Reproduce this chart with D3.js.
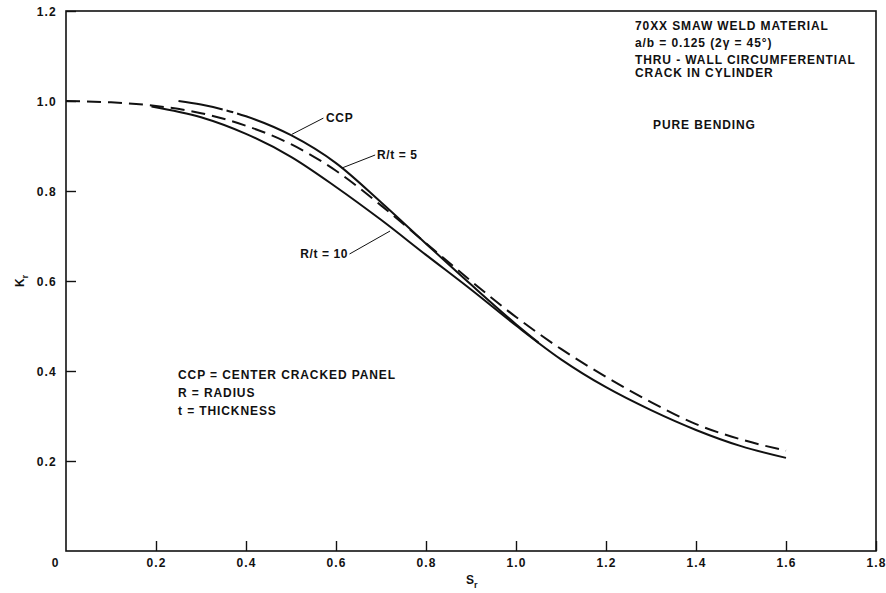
<!DOCTYPE html>
<html>
<head>
<meta charset="utf-8">
<script src="https://cdn.jsdelivr.net/npm/d3@7/dist/d3.min.js"></script>
<style>
  html, body { margin: 0; padding: 0; background: #fff; }
  svg { display: block; }
  text { font-family: "Liberation Sans", Arial, Helvetica, sans-serif; font-weight: bold; fill: #111; }
</style>
</head>
<body>
<svg id="chart" width="886" height="593"></svg>
<script>
// ---- data ----
const xTicks = [0.2, 0.4, 0.6, 0.8, 1.0, 1.2, 1.4, 1.6, 1.8];
const xTickLabels = ["0.2", "0.4", "0.6", "0.8", "1.0", "1.2", "1.4", "1.6", "1.8"];
const yTicks = [0.2, 0.4, 0.6, 0.8, 1.0, 1.2];
const yTickLabels = ["0.2", "0.4", "0.6", "0.8", "1.0", "1.2"];

// R/t = 5 (dashed)
const rt5Sr = [0, 0.1, 0.2, 0.3, 0.4, 0.5, 0.6, 0.7, 0.8, 0.9, 1.0, 1.1, 1.2, 1.3, 1.4, 1.5, 1.6];
const rt5Kr = [1.0, 0.997, 0.989, 0.973, 0.945, 0.904, 0.845, 0.768, 0.684, 0.600, 0.520, 0.449, 0.387, 0.331, 0.282, 0.248, 0.223];
// R/t = 10 (solid)
const rt10Sr = [0.19, 0.3, 0.4, 0.5, 0.6, 0.7, 0.8, 0.9, 1.0, 1.1, 1.2, 1.3, 1.4, 1.5, 1.6];
const rt10Kr = [0.988, 0.964, 0.927, 0.876, 0.809, 0.736, 0.658, 0.581, 0.501, 0.426, 0.364, 0.313, 0.269, 0.233, 0.207];
// CCP (dash-dot, then solid)
const ccpSr = [0.25, 0.3, 0.4, 0.5, 0.6, 0.7, 0.8, 0.9, 1.0, 1.05];
const ccpKr = [1.0, 0.992, 0.966, 0.924, 0.862, 0.775, 0.683, 0.592, 0.504, 0.463];

const infoLines = ["70XX SMAW WELD MATERIAL", "a/b = 0.125 (2\u03B3 = 45\u00B0)", "THRU - WALL CIRCUMFERENTIAL", "CRACK IN CYLINDER"];
const legendLines = ["CCP = CENTER CRACKED PANEL", "R = RADIUS", "t = THICKNESS"];

// ---- layout ----
const svg = d3.select("#chart");
const x = d3.scaleLinear().domain([0, 1.8]).range([66, 876]);
const y = d3.scaleLinear().domain([0, 1.2]).range([551, 11]);
const ink = "#111";
const fs = "12px", ls = "0.9px";

// frame
svg.append("rect").attr("x", x(0)).attr("y", y(1.2))
  .attr("width", x(1.8) - x(0)).attr("height", y(0) - y(1.2))
  .attr("fill", "none").attr("stroke", ink).attr("stroke-width", 1.6);

// x axis (ticks inward)
const xAxis = d3.axisTop(x).tickValues(xTicks).tickSize(10).tickFormat("");
svg.append("g").attr("transform", `translate(0,${y(0)})`).call(xAxis)
  .call(g => g.select(".domain").remove())
  .call(g => g.selectAll("line").attr("stroke", ink).attr("stroke-width", 1.4));
svg.append("g").selectAll("text").data(xTicks).join("text")
  .attr("x", d => x(d) + 0.6).attr("y", y(0) + 16)
  .attr("text-anchor", "middle").style("font-size", fs).style("letter-spacing", "1.2px")
  .text((d, i) => xTickLabels[i]);
svg.append("text").attr("x", x(0) - 11).attr("y", y(0) + 16)
  .attr("text-anchor", "middle").style("font-size", fs).text("0");

// y axis (ticks inward)
const yAxis = d3.axisRight(y).tickValues(yTicks).tickSize(10).tickFormat("");
svg.append("g").attr("transform", `translate(${x(0)},0)`).call(yAxis)
  .call(g => g.select(".domain").remove())
  .call(g => g.selectAll("line").attr("stroke", ink).attr("stroke-width", 1.4));
svg.append("g").selectAll("text").data(yTicks).join("text")
  .attr("x", x(0) - 9).attr("y", d => y(d) + 4.5)
  .attr("text-anchor", "end").style("font-size", fs).style("letter-spacing", "1.2px")
  .text((d, i) => yTickLabels[i]);

// axis titles
const sx = svg.append("text").attr("x", 466).attr("y", 584).style("font-size", "12px");
sx.append("tspan").text("S");
sx.append("tspan").attr("dy", 4).style("font-size", "9px").text("r");
const ky = svg.append("text").attr("transform", "translate(24,287) rotate(-90)").style("font-size", "12px");
ky.append("tspan").text("K");
ky.append("tspan").attr("dy", 4).style("font-size", "9px").text("r");

// curves
const line = d3.line().x(d => x(d[0])).y(d => y(d[1])).curve(d3.curveMonotoneX);
svg.append("path").datum(rt5Sr.map((s, i) => [s, rt5Kr[i]]))
  .attr("d", line).attr("fill", "none").attr("stroke", ink).attr("stroke-width", 2)
  .attr("stroke-dasharray", "14,7");
svg.append("path").datum(rt10Sr.map((s, i) => [s, rt10Kr[i]]))
  .attr("d", line).attr("fill", "none").attr("stroke", ink).attr("stroke-width", 2);
svg.append("path").datum(ccpSr.map((s, i) => [s, ccpKr[i]]))
  .attr("d", line).attr("fill", "none").attr("stroke", ink).attr("stroke-width", 2)
  .attr("stroke-dasharray", "45,4,7,4,3000,0");

// curve labels with leaders (positions in data units)
function label(txt, tx, ty, lx1, ly1, lx2, ly2, anchor) {
  svg.append("line").attr("x1", x(lx1)).attr("y1", y(ly1)).attr("x2", x(lx2)).attr("y2", y(ly2))
    .attr("stroke", ink).attr("stroke-width", 1);
  svg.append("text").attr("x", x(tx)).attr("y", y(ty)).attr("text-anchor", anchor)
    .style("font-size", fs).style("letter-spacing", "0.6px").text(txt);
}
label("CCP", 0.578, 0.953, 0.572, 0.962, 0.502, 0.926, "start");
label("R/t = 5", 0.691, 0.871, 0.687, 0.880, 0.613, 0.851, "start");
label("R/t = 10", 0.627, 0.651, 0.630, 0.660, 0.72, 0.711, "end");

// info block
svg.append("g").selectAll("text").data(infoLines).join("text")
  .attr("x", 635).attr("y", (d, i) => [30, 47, 64, 77][i])
  .style("font-size", fs).style("letter-spacing", ls).text(d => d);
svg.append("text").attr("x", 653).attr("y", 129)
  .style("font-size", fs).style("letter-spacing", ls).text("PURE BENDING");

// legend block
svg.append("g").selectAll("text").data(legendLines).join("text")
  .attr("x", 178).attr("y", (d, i) => [379, 397, 415][i])
  .style("font-size", fs).style("letter-spacing", ls).text(d => d);
</script>
</body>
</html>
